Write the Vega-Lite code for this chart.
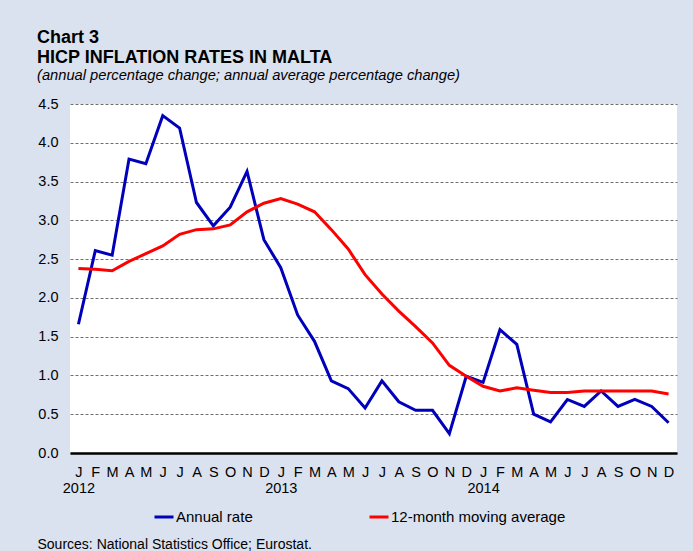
{
  "$schema": "https://vega.github.io/schema/vega-lite/v6.json",
  "width": 607,
  "height": 349,
  "autosize": {"type": "none"},
  "padding": {"left": 70, "top": 104, "right": 16, "bottom": 98},
  "background": "#dbe2ef",
  "title": {
    "text": ["Chart 3", "HICP INFLATION RATES IN MALTA"],
    "subtitle": "(annual percentage change; annual average percentage change)",
    "anchor": "start",
    "frame": "bounds",
    "font": "Liberation Sans",
    "fontSize": 18,
    "fontWeight": "bold",
    "color": "#000000",
    "lineHeight": 20,
    "subtitleFont": "Liberation Sans",
    "subtitleFontSize": 14.7,
    "subtitleFontStyle": "italic",
    "subtitleColor": "#000000",
    "subtitlePadding": 1,
    "offset": 13
  },
  "config": {
    "view": {"fill": "#ffffff", "stroke": null},
    "font": "Liberation Sans"
  },
  "data": {
    "values": [
      {"date": "2012-01", "series": "Annual rate", "value": 1.66},
      {"date": "2012-02", "series": "Annual rate", "value": 2.61},
      {"date": "2012-03", "series": "Annual rate", "value": 2.55},
      {"date": "2012-04", "series": "Annual rate", "value": 3.79},
      {"date": "2012-05", "series": "Annual rate", "value": 3.73},
      {"date": "2012-06", "series": "Annual rate", "value": 4.35},
      {"date": "2012-07", "series": "Annual rate", "value": 4.19},
      {"date": "2012-08", "series": "Annual rate", "value": 3.23},
      {"date": "2012-09", "series": "Annual rate", "value": 2.93},
      {"date": "2012-10", "series": "Annual rate", "value": 3.17},
      {"date": "2012-11", "series": "Annual rate", "value": 3.63},
      {"date": "2012-12", "series": "Annual rate", "value": 2.75},
      {"date": "2013-01", "series": "Annual rate", "value": 2.39},
      {"date": "2013-02", "series": "Annual rate", "value": 1.78},
      {"date": "2013-03", "series": "Annual rate", "value": 1.44},
      {"date": "2013-04", "series": "Annual rate", "value": 0.93},
      {"date": "2013-05", "series": "Annual rate", "value": 0.83},
      {"date": "2013-06", "series": "Annual rate", "value": 0.58},
      {"date": "2013-07", "series": "Annual rate", "value": 0.93},
      {"date": "2013-08", "series": "Annual rate", "value": 0.66},
      {"date": "2013-09", "series": "Annual rate", "value": 0.55},
      {"date": "2013-10", "series": "Annual rate", "value": 0.55},
      {"date": "2013-11", "series": "Annual rate", "value": 0.25},
      {"date": "2013-12", "series": "Annual rate", "value": 0.99},
      {"date": "2014-01", "series": "Annual rate", "value": 0.91},
      {"date": "2014-02", "series": "Annual rate", "value": 1.59},
      {"date": "2014-03", "series": "Annual rate", "value": 1.40},
      {"date": "2014-04", "series": "Annual rate", "value": 0.50},
      {"date": "2014-05", "series": "Annual rate", "value": 0.40},
      {"date": "2014-06", "series": "Annual rate", "value": 0.69},
      {"date": "2014-07", "series": "Annual rate", "value": 0.60},
      {"date": "2014-08", "series": "Annual rate", "value": 0.80},
      {"date": "2014-09", "series": "Annual rate", "value": 0.60},
      {"date": "2014-10", "series": "Annual rate", "value": 0.69},
      {"date": "2014-11", "series": "Annual rate", "value": 0.60},
      {"date": "2014-12", "series": "Annual rate", "value": 0.39},
      {"date": "2012-01", "series": "12-month moving average", "value": 2.38},
      {"date": "2012-02", "series": "12-month moving average", "value": 2.37},
      {"date": "2012-03", "series": "12-month moving average", "value": 2.35},
      {"date": "2012-04", "series": "12-month moving average", "value": 2.47},
      {"date": "2012-05", "series": "12-month moving average", "value": 2.57},
      {"date": "2012-06", "series": "12-month moving average", "value": 2.67},
      {"date": "2012-07", "series": "12-month moving average", "value": 2.82},
      {"date": "2012-08", "series": "12-month moving average", "value": 2.88},
      {"date": "2012-09", "series": "12-month moving average", "value": 2.89},
      {"date": "2012-10", "series": "12-month moving average", "value": 2.94},
      {"date": "2012-11", "series": "12-month moving average", "value": 3.11},
      {"date": "2012-12", "series": "12-month moving average", "value": 3.22},
      {"date": "2013-01", "series": "12-month moving average", "value": 3.28},
      {"date": "2013-02", "series": "12-month moving average", "value": 3.21},
      {"date": "2013-03", "series": "12-month moving average", "value": 3.11},
      {"date": "2013-04", "series": "12-month moving average", "value": 2.88},
      {"date": "2013-05", "series": "12-month moving average", "value": 2.63},
      {"date": "2013-06", "series": "12-month moving average", "value": 2.30},
      {"date": "2013-07", "series": "12-month moving average", "value": 2.05},
      {"date": "2013-08", "series": "12-month moving average", "value": 1.83},
      {"date": "2013-09", "series": "12-month moving average", "value": 1.63},
      {"date": "2013-10", "series": "12-month moving average", "value": 1.42},
      {"date": "2013-11", "series": "12-month moving average", "value": 1.13},
      {"date": "2013-12", "series": "12-month moving average", "value": 0.99},
      {"date": "2014-01", "series": "12-month moving average", "value": 0.86},
      {"date": "2014-02", "series": "12-month moving average", "value": 0.80},
      {"date": "2014-03", "series": "12-month moving average", "value": 0.84},
      {"date": "2014-04", "series": "12-month moving average", "value": 0.81},
      {"date": "2014-05", "series": "12-month moving average", "value": 0.78},
      {"date": "2014-06", "series": "12-month moving average", "value": 0.78},
      {"date": "2014-07", "series": "12-month moving average", "value": 0.80},
      {"date": "2014-08", "series": "12-month moving average", "value": 0.80},
      {"date": "2014-09", "series": "12-month moving average", "value": 0.80},
      {"date": "2014-10", "series": "12-month moving average", "value": 0.80},
      {"date": "2014-11", "series": "12-month moving average", "value": 0.80},
      {"date": "2014-12", "series": "12-month moving average", "value": 0.76}
    ]
  },
  "mark": {"type": "line", "strokeWidth": 3},
  "encoding": {
    "x": {
      "field": "date",
      "type": "ordinal",
      "scale": {"type": "point", "padding": 0.5},
      "axis": {
        "title": "Sources: National Statistics Office; Eurostat.",
        "titleFont": "Liberation Sans",
        "titleFontSize": 14,
        "titleFontWeight": "normal",
        "titleColor": "#000000",
        "titleAnchor": "start",
        "titleAlign": "left",
        "titleBaseline": "alphabetic",
        "titleX": -33,
        "titleY": 95,
        "labelAngle": 0,
        "labelExpr": "[substring('JFMAMJJASOND', toNumber(substring(datum.value,5,7))-1, toNumber(substring(datum.value,5,7))), substring(datum.value,5,7)=='01' ? substring(datum.value,0,4) : '']",
        "labelFont": "Liberation Sans",
        "labelFontSize": 14.5,
        "labelColor": "#000000",
        "labelLineHeight": 16,
        "labelPadding": 12,
        "labelOverlap": false,
        "labelFlush": false,
        "ticks": false,
        "grid": false,
        "domainColor": "#000000",
        "domainWidth": 2.5
      }
    },
    "y": {
      "field": "value",
      "type": "quantitative",
      "scale": {"domain": [0, 4.5], "nice": false, "zero": true},
      "axis": {
        "title": null,
        "values": [0, 0.5, 1, 1.5, 2, 2.5, 3, 3.5, 4, 4.5],
        "format": ".1f",
        "labelFont": "Liberation Sans",
        "labelFontSize": 14.5,
        "labelColor": "#000000",
        "labelPadding": 12,
        "ticks": false,
        "domain": false,
        "grid": true,
        "gridColor": "#707070",
        "gridDash": [3, 2],
        "gridWidth": 1
      }
    },
    "color": {
      "field": "series",
      "type": "nominal",
      "scale": {
        "domain": ["Annual rate", "12-month moving average"],
        "range": ["#0000bb", "#ff0000"]
      },
      "legend": {
        "title": null,
        "orient": "none",
        "direction": "horizontal",
        "legendX": 83,
        "legendY": 402,
        "padding": 0,
        "symbolType": "stroke",
        "symbolSize": 361,
        "symbolStrokeWidth": 3,
        "labelFont": "Liberation Sans",
        "labelFontSize": 15,
        "labelColor": "#000000",
        "labelOffset": 1,
        "labelLimit": 400,
        "columnPadding": 110
      }
    }
  }
}
